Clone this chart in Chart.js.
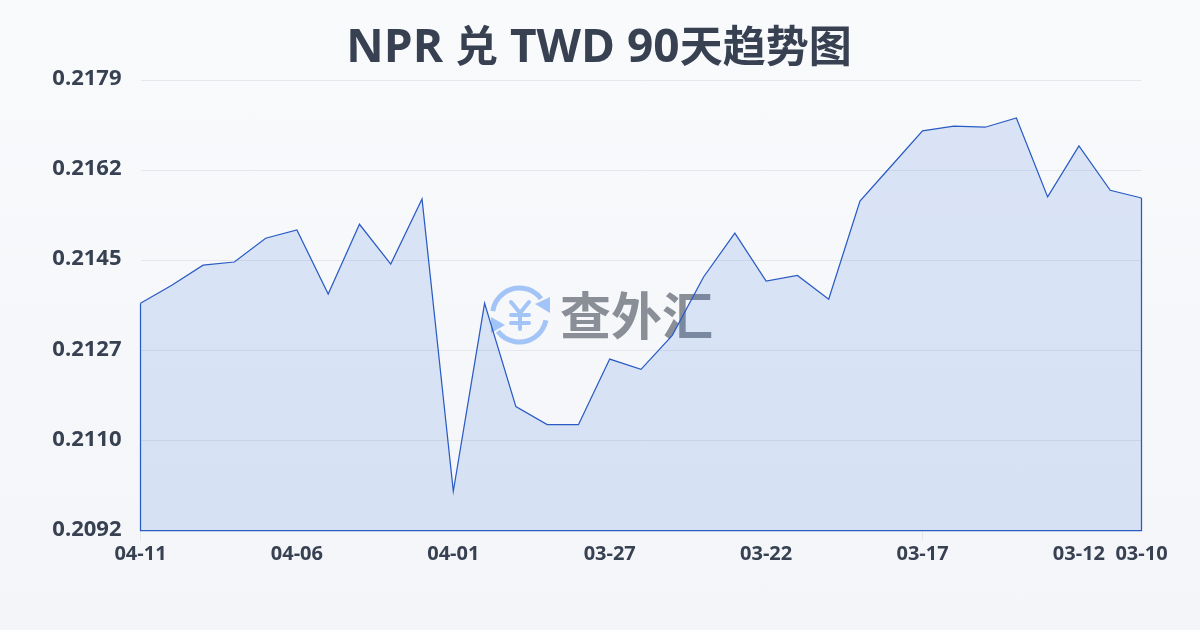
<!DOCTYPE html>
<html>
<head>
<meta charset="utf-8">
<script src="https://cdn.jsdelivr.net/npm/chart.js@4"></script>
<style>
  html, body { margin: 0; padding: 0; }
  body { position: relative; width: 1200px; height: 630px; background: linear-gradient(180deg, #f9fafc 0%, #f3f5f8 100%); overflow: hidden; }
  canvas { display: block; }
  h1 { position: absolute; left: 0; top: 18px; width: 1198px; margin: 0; text-align: center; font: bold 46px/52px "Open Sans", "Noto Sans CJK SC", sans-serif; color: #374151; }
  h1 span { font-size: 43px; }
</style>
</head>
<body>
<canvas id="chartCanvas" width="1200" height="630"></canvas>
<h1 id="title">NPR <span>兑</span> TWD 90<span>天趋势图</span></h1>
<script>
const watermarkText = '查外汇';

const dates = ['04-11','04-10','04-09','04-08','04-07','04-06','04-05','04-04','04-03','04-02','04-01',
  '03-31','03-30','03-29','03-28','03-27','03-26','03-25','03-24','03-23','03-22','03-21','03-20','03-19',
  '03-18','03-17','03-16','03-15','03-14','03-13','03-12','03-11','03-10'];
const rates = [0.21362,0.21397,0.21436,0.21442,0.21488,0.21504,0.21380,0.21515,0.21438,0.21564,0.20998,
  0.21362,0.21162,0.21127,0.21127,0.21254,0.21234,0.21300,0.21413,0.21498,0.21405,0.21416,0.21370,0.21560,
  0.21628,0.21696,0.21705,0.21703,0.21721,0.21568,0.21667,0.21581,0.21566];
const yTicks = [0.20922,0.210965,0.21271,0.214455,0.2162,0.217945];
const xLabels = ['04-11','04-06','04-01','03-27','03-22','03-17','03-12','03-10'];

const textColor = '#374151';
const fontFamily = '"Open Sans", "Noto Sans CJK SC", sans-serif';

// logo sits under the area fill, so it goes in before the datasets
const watermark = {
  id: 'watermark',
  beforeDatasetsDraw(chart) {
    const c = chart.ctx;
    c.save();
    const cx = 519.5, cy = 315, r = 27;
    c.strokeStyle = '#a3c4f7';
    c.fillStyle = '#a3c4f7';
    c.lineWidth = 5;
    c.beginPath(); c.arc(cx, cy, r, -3.0, -0.65); c.stroke();
    c.beginPath(); c.arc(cx, cy, r, 0.2, 2.5); c.stroke();
    c.beginPath(); c.moveTo(550, 297); c.lineTo(550, 313); c.lineTo(535, 304); c.closePath(); c.fill();
    c.beginPath(); c.moveTo(491, 317); c.lineTo(491, 333); c.lineTo(505, 325); c.closePath(); c.fill();
    // yen sign
    c.lineWidth = 4;
    c.lineCap = 'round';
    c.lineJoin = 'round';
    c.beginPath();
    c.moveTo(511, 302); c.lineTo(520, 313); c.lineTo(529, 302);
    c.moveTo(511, 315); c.lineTo(529, 315);
    c.moveTo(511, 323); c.lineTo(529, 323);
    c.moveTo(520, 313); c.lineTo(520, 329);
    c.stroke();
    c.fillStyle = '#898e97';
    c.font = 'bold 51px "Noto Sans CJK SC"';
    c.textAlign = 'left';
    c.textBaseline = 'middle';
    c.fillText(watermarkText, 560, 316);
    c.restore();
  }
};

// outline closes the area down the sides and along the bottom
const areaEdge = {
  id: 'areaEdge',
  afterDatasetsDraw(chart) {
    const { left, right, bottom } = chart.chartArea;
    const y = chart.scales.y;
    const c = chart.ctx;
    c.save();
    c.strokeStyle = '#2a5bc4';
    c.lineWidth = 1.25;
    c.beginPath();
    c.moveTo(left, y.getPixelForValue(rates[0]));
    c.lineTo(left, bottom);
    c.lineTo(right, bottom);
    c.lineTo(right, y.getPixelForValue(rates[rates.length - 1]));
    c.stroke();
    c.restore();
  }
};

new Chart(document.getElementById('chartCanvas').getContext('2d'), {
  type: 'line',
  data: {
    labels: dates,
    datasets: [{
      data: rates,
      borderColor: '#2a5bc4',
      borderWidth: 1.25,
      backgroundColor: 'rgba(37, 99, 220, 0.14)',
      fill: 'start',
      tension: 0,
      pointRadius: 0
    }]
  },
  plugins: [watermark, areaEdge],
  options: {
    responsive: false,
    animation: false,
    layout: { padding: { left: 0, right: 58.5, top: 80, bottom: 0 } },
    plugins: {
      legend: { display: false },
      tooltip: { enabled: false }
    },
    scales: {
      x: {
        offset: false,
        afterFit(scale) { scale.height = 99.5; },
        border: { display: false },
        grid: {
          drawOnChartArea: false,
          tickLength: 10,
          tickColor: ctx => xLabels.includes(dates[ctx.index]) ? '#e5e7eb' : 'transparent'
        },
        ticks: {
          autoSkip: false,
          maxRotation: 0,
          padding: 2,
          color: textColor,
          font: { family: fontFamily, size: 20, weight: 'bold' },
          callback(value, index) {
            const d = dates[index];
            return xLabels.includes(d) ? d : null;
          }
        }
      },
      y: {
        min: yTicks[0],
        max: yTicks[yTicks.length - 1],
        afterFit(scale) { scale.width = 140.5; },
        afterBuildTicks(scale) { scale.ticks = yTicks.map(v => ({ value: v })); },
        border: { display: false },
        grid: { color: '#e5e7eb', lineWidth: 1, drawTicks: false },
        ticks: {
          padding: 19,
          labelOffset: -1,
          color: textColor,
          font: { family: fontFamily, size: 22, weight: 'bold' },
          callback: v => v.toFixed(4)
        }
      }
    }
  }
});
</script>
</body>
</html>
